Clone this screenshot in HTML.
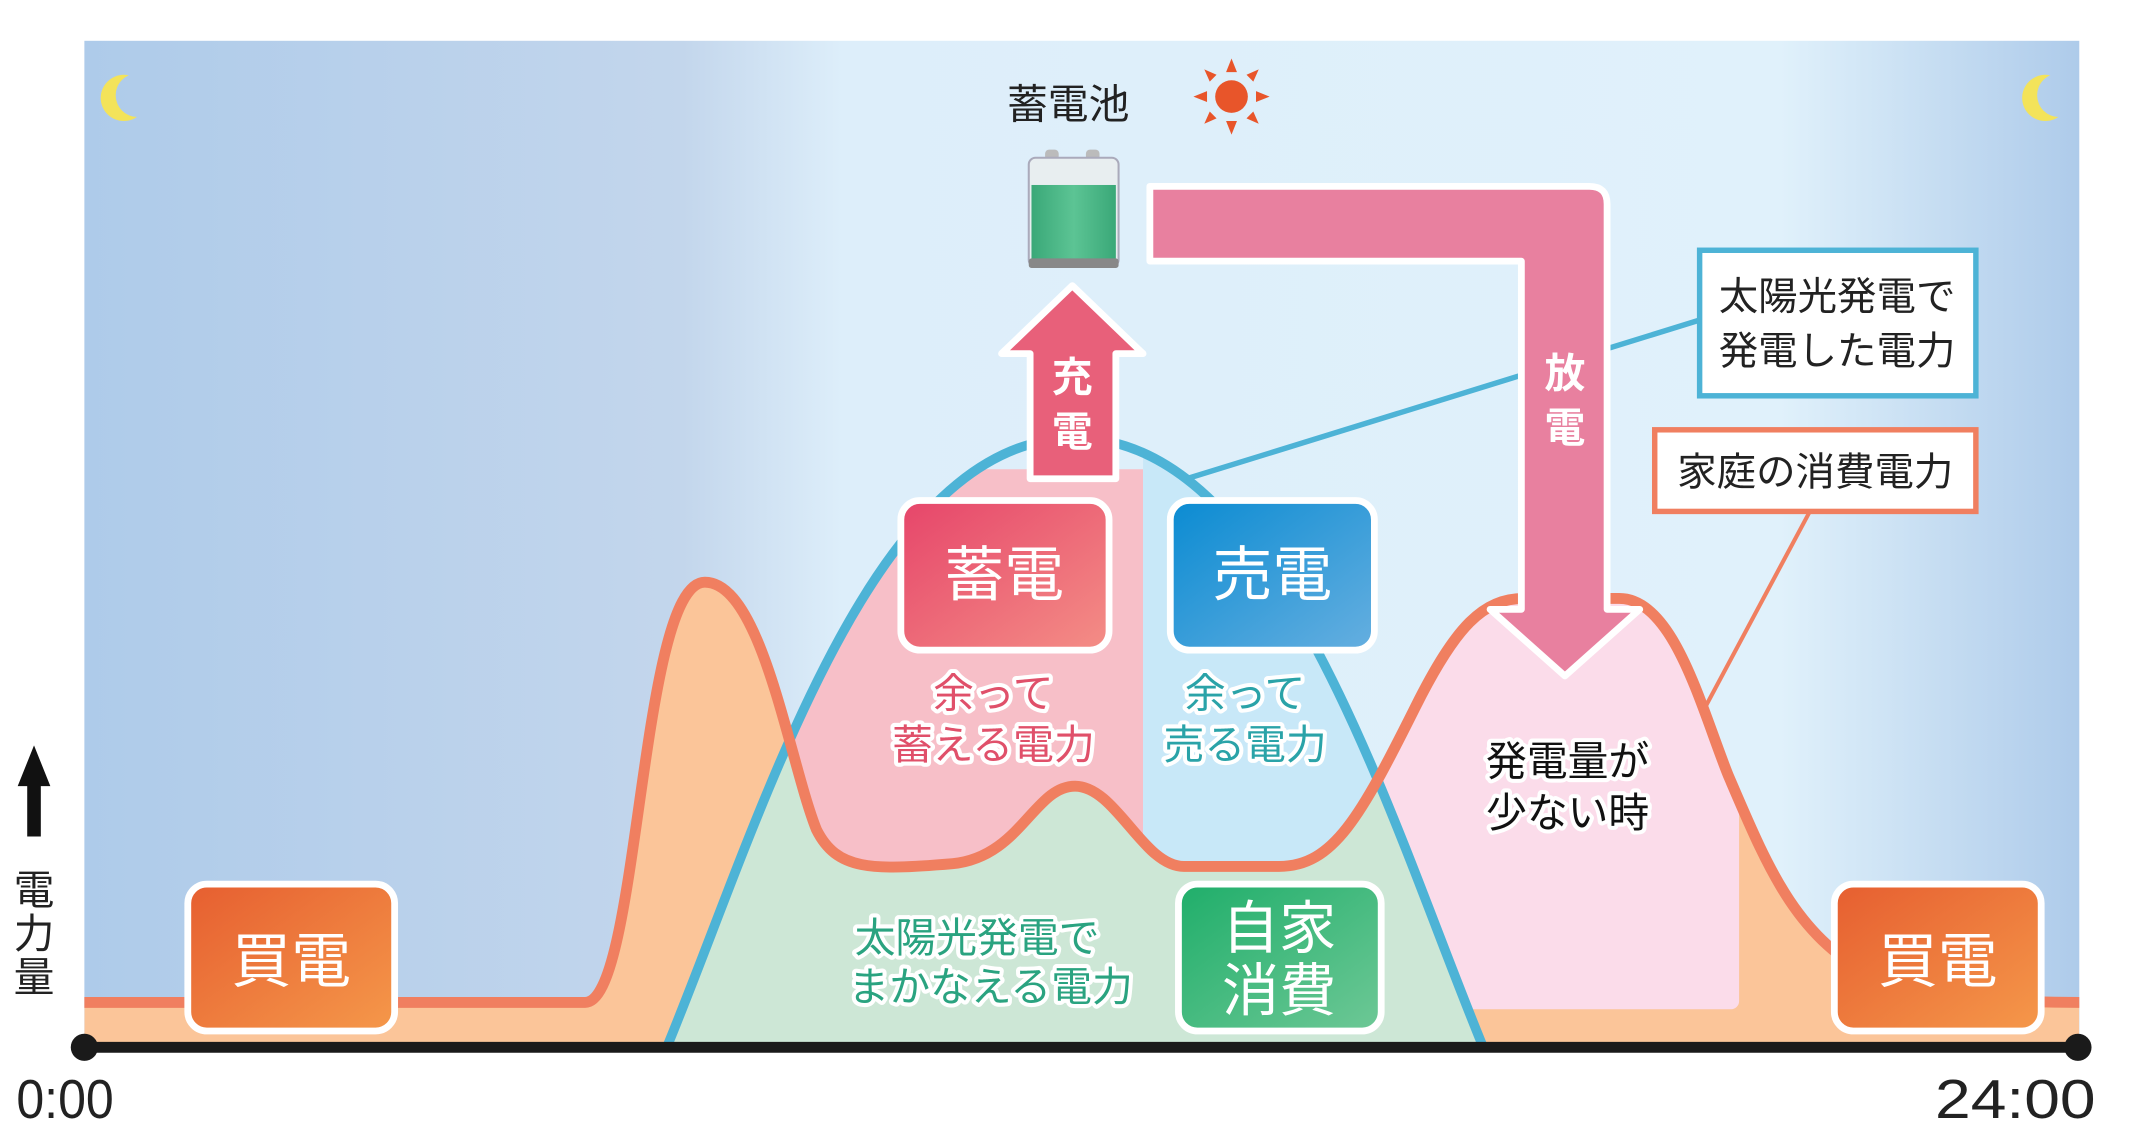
<!DOCTYPE html>
<html><head><meta charset="utf-8"><style>
html,body{margin:0;padding:0;background:#fff;}
svg{display:block;}
text{font-family:"Liberation Sans","Noto Sans CJK JP",sans-serif;}
</style></head><body>
<svg width="2131" height="1133" viewBox="0 0 1566 833" preserveAspectRatio="none" xmlns="http://www.w3.org/2000/svg">
<defs>
<linearGradient id="sky" x1="0" x2="1" y1="0" y2="0">
<stop offset="0" stop-color="#aecbea"/><stop offset="0.3" stop-color="#c3d6ec"/>
<stop offset="0.38" stop-color="#ddeefa"/><stop offset="0.85" stop-color="#e0f1fb"/>
<stop offset="1" stop-color="#aecbea"/></linearGradient>
<linearGradient id="gPink" x1="0" y1="0" x2="1" y2="1"><stop offset="0" stop-color="#e6456a"/><stop offset="1" stop-color="#f48e86"/></linearGradient>
<linearGradient id="gBlue" x1="0" y1="0" x2="1" y2="1"><stop offset="0" stop-color="#0a8bd2"/><stop offset="1" stop-color="#66afe0"/></linearGradient>
<linearGradient id="gGreen" x1="0" y1="0" x2="1" y2="1"><stop offset="0" stop-color="#1fae6a"/><stop offset="1" stop-color="#6ec896"/></linearGradient>
<linearGradient id="gOr" x1="0" y1="0" x2="1" y2="1"><stop offset="0" stop-color="#e65e30"/><stop offset="1" stop-color="#f5984a"/></linearGradient>
<linearGradient id="bat" x1="0" y1="0" x2="1" y2="0"><stop offset="0" stop-color="#3aa878"/><stop offset="0.5" stop-color="#5cc494"/><stop offset="1" stop-color="#3aa878"/></linearGradient>
<clipPath id="underO"><path d="M62,737 L430,737 C470,737 470,428 518,428 C560,428 580,560 600,610 C615,640 640,640 700,635 C750,630 760,578 790,578 C820,578 840,637 870,637 L940,637 C980,637 1000,600 1040,520 C1070,460 1090,440 1120,440 L1190,440 C1230,440 1250,520 1270,570 C1300,640 1320,690 1380,720 C1430,737 1500,737 1528,737 L1528,770 L62,770 Z"/></clipPath>
<clipPath id="bell"><path d="M490,770 C560,600 640,322 790,322 C940,322 1020,600 1090,770 Z"/></clipPath>
<mask id="m1"><rect x="0" y="0" width="1600" height="900" fill="#fff"/><circle cx="101" cy="70" r="16" fill="#000"/><circle cx="1513" cy="70" r="16" fill="#000"/></mask>
</defs>
<rect x="62" y="30" width="1466" height="740" fill="url(#sky)"/>
<!-- moons -->
<g mask="url(#m1)" fill="#f3e35a"><circle cx="91" cy="72" r="17"/><circle cx="1503" cy="72" r="17"/></g>
<!-- peach fill -->
<rect x="62" y="400" width="1466" height="370" fill="#fbc599" clip-path="url(#underO)"/>
<g clip-path="url(#underO)"><rect x="990" y="420" width="288" height="322" rx="6" fill="#fbdcea"/></g>
<g clip-path="url(#bell)">
<rect x="480" y="345" width="360" height="430" fill="#f7bfc8"/>
<rect x="840" y="330" width="260" height="440" fill="#c8e8f8"/>
<rect x="480" y="300" width="620" height="480" fill="#cde7d6" clip-path="url(#underO)"/>
</g>
<path d="M490,770 C560,600 640,322 790,322 C940,322 1020,600 1090,770" fill="none" stroke="#4db3d6" stroke-width="7"/>
<path d="M62,737 L430,737 C470,737 470,428 518,428 C560,428 580,560 600,610 C615,640 640,640 700,635 C750,630 760,578 790,578 C820,578 840,637 870,637 L940,637 C980,637 1000,600 1040,520 C1070,460 1090,440 1120,440 L1190,440 C1230,440 1250,520 1270,570 C1300,640 1320,690 1380,720 C1430,737 1500,737 1528,737" fill="none" stroke="#f07f60" stroke-width="8"/>
<line x1="872" y1="352" x2="1250" y2="235" stroke="#4db3d6" stroke-width="4"/>
<line x1="1252" y1="522" x2="1330" y2="376" stroke="#f07f60" stroke-width="3"/>
<line x1="62" y1="770" x2="1527" y2="770" stroke="#1a1a1a" stroke-width="8"/>
<circle cx="62" cy="770" r="10" fill="#1a1a1a"/><circle cx="1527" cy="770" r="10" fill="#1a1a1a"/>
<text x="12" y="822" font-size="40" fill="#222" transform="translate(12,0) scale(0.92,1) translate(-12,0)">0:00</text>
<text x="1422" y="822" font-size="40" fill="#222" textLength="118" lengthAdjust="spacingAndGlyphs">24:00</text>
<polygon points="25,548 13,578 20,578 20,615 30,615 30,578 37,578" fill="#111"/>
<text x="25" y="665" font-size="30" text-anchor="middle" fill="#222">電</text>
<text x="25" y="697" font-size="30" text-anchor="middle" fill="#222">力</text>
<text x="25" y="729" font-size="30" text-anchor="middle" fill="#222">量</text>
<text x="785" y="87" font-size="30" text-anchor="middle" fill="#222">蓄電池</text>
<g transform="translate(905,71)" fill="#e8552a">
<circle r="12"/>
<polygon points="0,-28 -4,-18 4,-18"/><polygon points="0,28 -4,18 4,18"/>
<polygon points="-28,0 -18,-4 -18,4"/><polygon points="28,0 18,-4 18,4"/>
<polygon points="-20,-20 -16,-11 -11,-16"/><polygon points="20,-20 16,-11 11,-16"/>
<polygon points="-20,20 -16,11 -11,16"/><polygon points="20,20 16,11 11,16"/>
</g>
<rect x="768" y="110" width="10" height="8" rx="3" fill="#bbb"/><rect x="798" y="110" width="10" height="8" rx="3" fill="#bbb"/>
<rect x="756" y="116" width="66" height="80" rx="5" fill="#e8eef0" stroke="#aab" stroke-width="1.5"/>
<rect x="758" y="136" width="62" height="56" fill="url(#bat)"/>
<rect x="756" y="190" width="66" height="7" rx="2" fill="#888"/>
<polygon points="788,210 840,260 820,260 820,352 757,352 757,260 736,260" fill="#e8607a" stroke="#fff" stroke-width="5" stroke-linejoin="round"/>
<text x="788" y="288" font-size="30" font-weight="bold" text-anchor="middle" fill="#fff">充</text>
<text x="788" y="328" font-size="30" font-weight="bold" text-anchor="middle" fill="#fff">電</text>
<path d="M845,137 L1168,137 Q1181,137 1181,150 L1181,448 L1205,448 L1150,497 L1095,448 L1118,448 L1118,192 L845,192 Z" fill="#e8809f" stroke="#fff" stroke-width="5" stroke-linejoin="round"/>
<text x="1150" y="285" font-size="30" font-weight="bold" text-anchor="middle" fill="#fff">放</text>
<text x="1150" y="325" font-size="30" font-weight="bold" text-anchor="middle" fill="#fff">電</text>
<rect x="1249" y="184" width="203" height="107" fill="#fff" stroke="#4db3d6" stroke-width="4"/>
<text x="1350" y="228" font-size="29" text-anchor="middle" fill="#222">太陽光発電で</text>
<text x="1350" y="268" font-size="29" text-anchor="middle" fill="#222">発電した電力</text>
<rect x="1216" y="316" width="236" height="60" fill="#fff" stroke="#f07f60" stroke-width="4"/>
<text x="1334" y="357" font-size="29" text-anchor="middle" fill="#222">家庭の消費電力</text>
<rect x="662" y="368" width="153" height="110" rx="14" fill="url(#gPink)" stroke="#fff" stroke-width="5"/>
<text x="738" y="438" font-size="44" text-anchor="middle" fill="#fff">蓄電</text>
<rect x="860" y="368" width="150" height="110" rx="14" fill="url(#gBlue)" stroke="#fff" stroke-width="5"/>
<text x="935" y="438" font-size="44" text-anchor="middle" fill="#fff">売電</text>
<rect x="866" y="650" width="149" height="108" rx="14" fill="url(#gGreen)" stroke="#fff" stroke-width="5"/>
<text x="940" y="697" font-size="42" text-anchor="middle" fill="#fff">自家</text>
<text x="940" y="743" font-size="42" text-anchor="middle" fill="#fff">消費</text>
<rect x="138" y="650" width="152" height="108" rx="14" fill="url(#gOr)" stroke="#fff" stroke-width="5"/>
<text x="214" y="722" font-size="44" text-anchor="middle" fill="#fff">買電</text>
<rect x="1348" y="650" width="152" height="108" rx="14" fill="url(#gOr)" stroke="#fff" stroke-width="5"/>
<text x="1424" y="722" font-size="44" text-anchor="middle" fill="#fff">買電</text>
<g font-size="30" text-anchor="middle" stroke="#fff" stroke-width="6" paint-order="stroke" stroke-linejoin="round">
<text x="730" y="520" fill="#e0506a">余って</text>
<text x="730" y="558" fill="#e0506a">蓄える電力</text>
<text x="915" y="520" fill="#2aa3a8">余って</text>
<text x="915" y="558" fill="#2aa3a8">売る電力</text>
<text x="718" y="700" fill="#2aa380">太陽光発電で</text>
<text x="728" y="736" fill="#2aa380">まかなえる電力</text>
<text x="1152" y="570" fill="#111">発電量が</text>
<text x="1152" y="608" fill="#111">少ない時</text>
</g>
</svg>
</body></html>
